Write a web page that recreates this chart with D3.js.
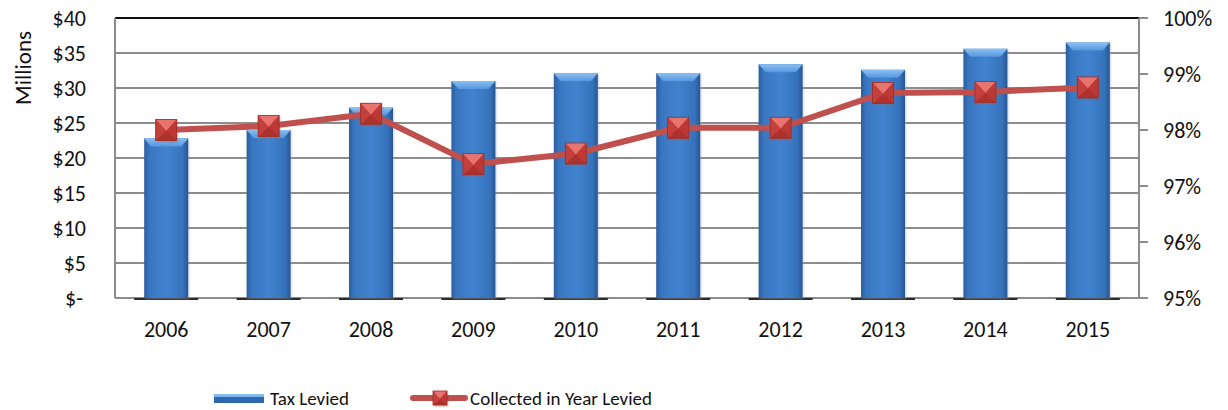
<!DOCTYPE html>
<html>
<head>
<meta charset="utf-8">
<script src="https://cdn.jsdelivr.net/npm/d3@7/dist/d3.min.js"></script>
<style>
  html, body { margin: 0; padding: 0; background: #fff; }
  svg { display: block; font-family: Carlito, Calibri, Lato, "Open Sans", sans-serif; }
</style>
</head>
<body>
<svg id="chart" width="1228" height="410"></svg>
<script>
// Tax levied (millions of dollars) and share collected in the levy year (%)
const years = ["2006", "2007", "2008", "2009", "2010", "2011", "2012", "2013", "2014", "2015"];
const taxLevied = [22.8, 24.0, 27.2, 31.0, 32.1, 32.1, 33.4, 32.6, 35.6, 36.5];
const collectedPct = [98.0, 98.07, 98.29, 97.39, 97.58, 98.04, 98.04, 98.66, 98.68, 98.76];
const leftTicks = [0, 5, 10, 15, 20, 25, 30, 35, 40];
const rightTicks = [95, 96, 97, 98, 99, 100];
const seriesNames = ["Tax Levied", "Collected in Year Levied"];

const svg = d3.select("#chart");
const plot = { left: 115, right: 1139, top: 18, bottom: 298 };

const x = d3.scaleBand().domain(years).range([plot.left, plot.right]).paddingInner(0).paddingOuter(0);
const yL = d3.scaleLinear().domain([0, 40]).range([plot.bottom, plot.top]);
const yR = d3.scaleLinear().domain([95, 100]).range([plot.bottom, plot.top]);

const defs = svg.append("defs");
const barGrad = defs.append("linearGradient").attr("id", "barGrad").attr("x1", "0").attr("x2", "1").attr("y1", "0").attr("y2", "0");
barGrad.append("stop").attr("offset", "0%").attr("stop-color", "#2b5e9f");
barGrad.append("stop").attr("offset", "12%").attr("stop-color", "#3a76c0");
barGrad.append("stop").attr("offset", "50%").attr("stop-color", "#4183cf");
barGrad.append("stop").attr("offset", "88%").attr("stop-color", "#3672bb");
barGrad.append("stop").attr("offset", "100%").attr("stop-color", "#265592");
const topGrad = defs.append("linearGradient").attr("id", "topGrad").attr("x1", "0").attr("x2", "0").attr("y1", "0").attr("y2", "1");
topGrad.append("stop").attr("offset", "0%").attr("stop-color", "#8cc0f2");
topGrad.append("stop").attr("offset", "100%").attr("stop-color", "#5596de");
const shadow = defs.append("filter").attr("id", "soft").attr("x", "-20%").attr("y", "-20%").attr("width", "140%").attr("height", "140%");
shadow.append("feGaussianBlur").attr("stdDeviation", 1.2);

// Horizontal gridlines
svg.append("g").selectAll("line").data(leftTicks.slice(1, -1)).join("line")
  .attr("x1", plot.left).attr("x2", plot.right)
  .attr("y1", d => yL(d)).attr("y2", d => yL(d))
  .attr("stroke", "#8c8c8c").attr("stroke-width", 2);

// Top border
svg.append("line").attr("x1", plot.left).attr("x2", plot.right)
  .attr("y1", plot.top).attr("y2", plot.top).attr("stroke", "#111").attr("stroke-width", 2);

// Base line and left/right axis lines
svg.append("line").attr("x1", plot.left).attr("x2", plot.right)
  .attr("y1", plot.bottom).attr("y2", plot.bottom).attr("stroke", "#8c8c8c").attr("stroke-width", 2);
svg.append("line").attr("x1", plot.left).attr("x2", plot.left)
  .attr("y1", plot.top).attr("y2", plot.bottom).attr("stroke", "#8c8c8c").attr("stroke-width", 2);
svg.append("line").attr("x1", plot.right).attr("x2", plot.right)
  .attr("y1", plot.top).attr("y2", plot.bottom).attr("stroke", "#8c8c8c").attr("stroke-width", 2);

// Right axis tick marks
svg.append("g").selectAll("line").data(rightTicks).join("line")
  .attr("x1", plot.right).attr("x2", plot.right + 9)
  .attr("y1", d => yR(d)).attr("y2", d => yR(d))
  .attr("stroke", "#8c8c8c").attr("stroke-width", 2);

// Bars
const barW = 44;
const bars = svg.append("g");
years.forEach((yr, i) => {
  const cx = x(yr) + x.bandwidth() / 2;
  const x0 = cx - barW / 2;
  const top = yL(taxLevied[i]);
  // dark shadow under bar
  bars.append("line").attr("x1", cx - 32).attr("x2", cx + 32)
    .attr("y1", plot.bottom + 1).attr("y2", plot.bottom + 1)
    .attr("stroke", "#2a2a2a").attr("stroke-width", 2);
  bars.append("rect").attr("x", x0 + 1).attr("y", top + 1).attr("width", barW).attr("height", plot.bottom - top)
    .attr("fill", "#9aa7b8").attr("opacity", 0.5).attr("filter", "url(#soft)");
  bars.append("rect").attr("x", x0).attr("y", top).attr("width", barW).attr("height", plot.bottom - top)
    .attr("fill", "url(#barGrad)");
  // bevelled top face
  bars.append("polygon")
    .attr("points", [[x0, top], [x0 + barW, top], [x0 + barW - 7, top + 8], [x0 + 7, top + 8]].map(p => p.join(",")).join(" "))
    .attr("fill", "url(#topGrad)");
});

// Line series
const lineGen = d3.line().x((d, i) => x(years[i]) + x.bandwidth() / 2).y(d => yR(d));
svg.append("path").datum(collectedPct).attr("d", lineGen)
  .attr("fill", "none").attr("stroke", "#c0504d").attr("stroke-width", 6).attr("stroke-linejoin", "round");

function marker(g, cx, cy, s) {
  const h = s / 2;
  const c = [cx, cy + 1];
  const tl = [cx - h, cy - h], tr = [cx + h, cy - h], br = [cx + h, cy + h], bl = [cx - h, cy + h];
  const poly = pts => pts.map(p => p.join(",")).join(" ");
  g.append("rect").attr("x", cx - h + 1).attr("y", cy - h + 1.5).attr("width", s).attr("height", s)
    .attr("fill", "#7a6a6a").attr("opacity", 0.5).attr("filter", "url(#soft)");
  // base fill under the facets keeps seams from showing
  g.append("rect").attr("x", cx - h).attr("y", cy - h).attr("width", s).attr("height", s).attr("fill", "#b93733");
  g.append("polygon").attr("points", poly([tl, tr, c])).attr("fill", "#e8746f");
  g.append("polygon").attr("points", poly([tr, br, c])).attr("fill", "#bd3935");
  g.append("polygon").attr("points", poly([br, bl, c])).attr("fill", "#ad312d");
  g.append("polygon").attr("points", poly([bl, tl, c])).attr("fill", "#c4403c");
  g.append("rect").attr("x", cx - h).attr("y", cy - h).attr("width", s).attr("height", s)
    .attr("fill", "none").attr("stroke", "#9e2c29").attr("stroke-width", 0.8);
}
const marks = svg.append("g");
collectedPct.forEach((v, i) => marker(marks, x(years[i]) + x.bandwidth() / 2, yR(v), 21));

// Axis labels
const leftFmt = d => d === 0 ? "$-" : "$" + d;
svg.append("g").selectAll("text").data(leftTicks).join("text")
  .attr("x", d => d === 0 ? 83 : 86).attr("y", d => yL(d)).attr("dy", "0.35em")
  .attr("text-anchor", "end")
  .attr("font-size", 22).attr("fill", "#111").text(leftFmt);
svg.append("g").selectAll("text").data(rightTicks).join("text")
  .attr("x", 1163).attr("y", d => yR(d)).attr("dy", "0.35em")
  .attr("font-size", 22).attr("fill", "#111").text(d => d + "%");
svg.append("g").selectAll("text").data(years).join("text")
  .attr("x", d => x(d) + x.bandwidth() / 2).attr("y", 329).attr("dy", "0.35em")
  .attr("text-anchor", "middle").attr("font-size", 22).attr("fill", "#111").text(d => d);
svg.append("text").attr("transform", "translate(23,68) rotate(-90)")
  .attr("text-anchor", "middle").attr("dy", "0.35em").attr("font-size", 23).attr("fill", "#111").text("Millions");

// Legend
const lg = svg.append("g");
lg.append("rect").attr("x", 214).attr("y", 394).attr("width", 50).attr("height", 9).attr("fill", "url(#topGrad)");
lg.append("rect").attr("x", 214).attr("y", 397).attr("width", 50).attr("height", 6).attr("fill", "#2f68b1");
lg.append("text").attr("x", 270).attr("y", 398).attr("dy", "0.35em").attr("font-size", 19).attr("fill", "#111").text(seriesNames[0]);
lg.append("line").attr("x1", 413).attr("x2", 465).attr("y1", 398).attr("y2", 398)
  .attr("stroke", "#c0504d").attr("stroke-width", 6).attr("stroke-linecap", "round");
marker(lg, 440, 398, 14);
lg.append("text").attr("x", 470).attr("y", 398).attr("dy", "0.35em").attr("font-size", 19).attr("fill", "#111").text(seriesNames[1]);
</script>
</body>
</html>
